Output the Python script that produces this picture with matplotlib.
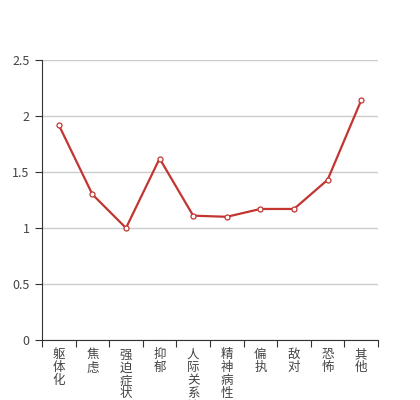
import matplotlib.pyplot as plt
import numpy as np

categories = ["躯体化", "焦虑", "强迫症状", "抑郁", "人际关系敏感", "精神病性", "偏执", "敌对", "恐怖", "其他"]
values = [1.92, 1.30, 1.00, 1.62, 1.11, 1.10, 1.17, 1.17, 1.43, 2.14]
yticks = [0, 0.5, 1, 1.5, 2, 2.5]
ytick_labels = ["0", "0.5", "1", "1.5", "2", "2.5"]

plt.rcParams["font.family"] = ["Noto Sans CJK SC", "DejaVu Sans"]

fig = plt.figure(figsize=(4.2, 4.0), dpi=100)
ax = fig.add_axes([0.1, 0.15, 0.8, 0.7])

x = np.arange(len(categories))
ax.plot(x, values, color="#c23531", lw=1.6, marker="o", ms=3.6,
        markerfacecolor="white", markeredgecolor="#c23531", markeredgewidth=0.9, zorder=3)

ax.set_xlim(-0.5, len(categories) - 0.5)
ax.set_ylim(0, 2.5)
ax.set_yticks(yticks)
ax.set_yticklabels(ytick_labels, fontsize=9, color="#444444")
ax.yaxis.grid(True, color="#cccccc", lw=1)
ax.set_axisbelow(True)

# category ticks sit on band edges, labels centred in bands
ax.set_xticks(np.arange(len(categories) + 1) - 0.5)
ax.set_xticklabels([])
ax.set_xticks(x, minor=True)
ax.set_xticklabels(["\n".join(c) for c in categories], minor=True,
                   fontsize=9, color="#444444", va="top", linespacing=1.0)
ax.tick_params(axis="x", which="minor", length=0, pad=6)
ax.tick_params(axis="x", which="major", length=5, color="#333333", direction="out")
ax.tick_params(axis="y", length=5, color="#333333", pad=4)

for side in ["top", "right"]:
    ax.spines[side].set_visible(False)
for side in ["left", "bottom"]:
    ax.spines[side].set_color("#333333")

fig.savefig("out.png")
